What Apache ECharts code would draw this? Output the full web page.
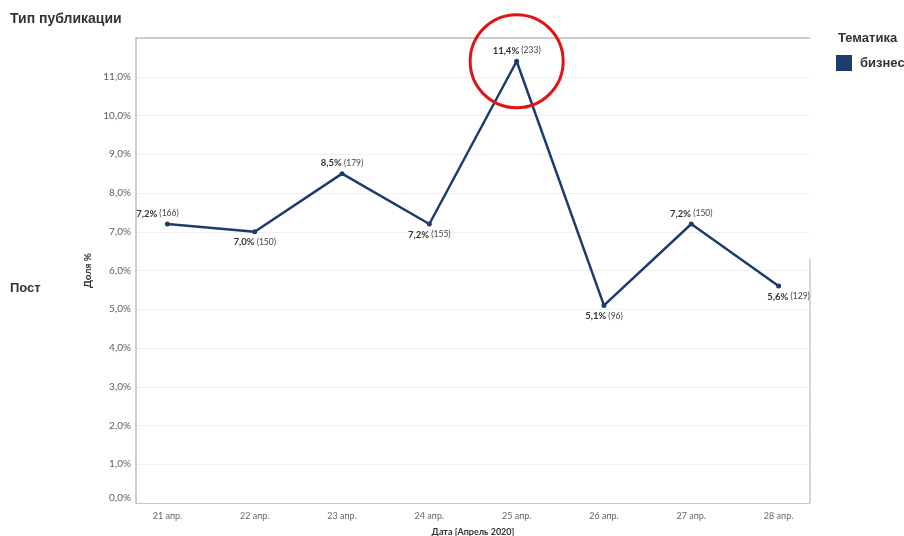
<!DOCTYPE html>
<html>
<head>
<meta charset="utf-8">
<script src="https://cdn.jsdelivr.net/npm/echarts@6/dist/echarts.min.js"></script>
<style>
  html, body { margin: 0; padding: 0; background: #fff; }
  #chart { width: 904px; height: 536px; }
</style>
</head>
<body>
<div id="chart"></div>
<script>
// Daily share of "бизнес" posts, 21–28 April 2020
const categories = ['21 апр.', '22 апр.', '23 апр.', '24 апр.', '25 апр.', '26 апр.', '27 апр.', '28 апр.'];
const shares = [7.2, 7.0, 8.5, 7.2, 11.4, 5.1, 7.2, 5.6];
const counts = [166, 150, 179, 155, 233, 96, 150, 129];
const labelPlacement = ['top', 'bottom', 'top', 'bottom', 'top', 'bottom', 'top', 'bottom'];
const yTicks = [0, 1, 2, 3, 4, 5, 6, 7, 8, 9, 10, 11, 12];

const navy = '#1d3c6e';
const pct = v => v.toFixed(1).replace('.', ',') + '%';

const seriesData = shares.map((v, i) => {
  let off = [0, 0];
  if (i === 0) off = [-10, 0];
  if (i === shares.length - 1) off = [10, 0];
  return {
    value: [i, v],
    label: { position: labelPlacement[i], offset: off }
  };
});

const chart = echarts.init(document.getElementById('chart'), null, { renderer: 'canvas' });
chart.setOption({
  animation: false,
  backgroundColor: '#fff',
  textStyle: { fontFamily: 'Lato, "Noto Sans", sans-serif' },
  grid: { left: 136, right: 94, top: 38, bottom: 33, containLabel: false, outerBoundsMode: 'none' },
  title: [
    { text: 'Тип публикации', left: 5, top: 7,
      textStyle: { fontFamily: '"Liberation Sans", Arial, sans-serif', fontSize: 14, fontWeight: 'bold', color: '#333' } },
    { text: 'Пост', left: 5, top: 277,
      textStyle: { fontFamily: '"Liberation Sans", Arial, sans-serif', fontSize: 13, fontWeight: 'bold', color: '#333' } },
    { text: 'Тематика', left: 833, top: 27,
      textStyle: { fontFamily: '"Liberation Sans", Arial, sans-serif', fontSize: 13, fontWeight: 'bold', color: '#333' } }
  ],
  legend: {
    left: 831, top: 50, itemWidth: 16, itemHeight: 16, itemGap: 6,
    icon: 'rect',
    textStyle: { fontFamily: '"Liberation Sans", Arial, sans-serif', fontSize: 13, fontWeight: 'bold', color: '#333', padding: [0, 0, 0, 3] },
    data: [{ name: 'бизнес', itemStyle: { color: navy } }]
  },
  xAxis: [{
    type: 'value',
    min: -0.36, max: 7.36,
    name: 'Дата [Апрель 2020]',
    nameLocation: 'middle', nameGap: 25,
    nameTextStyle: { fontSize: 9, fontWeight: 'bold', color: '#333' },
    axisLine: { show: true, onZero: false, lineStyle: { color: '#c8c8c8', width: 1 } },
    axisTick: { show: false },
    splitLine: { show: false },
    axisLabel: {
      customValues: categories.map((c, i) => i),
      formatter: v => categories[Math.round(v)],
      color: '#666', fontSize: 9, margin: 9
    }
  }, {
    type: 'value', position: 'top',
    min: -0.36, max: 7.36,
    axisLine: { show: true, onZero: false, lineStyle: { color: '#c0c0c0', width: 1.5 } },
    axisTick: { show: false }, axisLabel: { show: false }, splitLine: { show: false }
  }],
  yAxis: {
    type: 'value', min: 0, max: 12, interval: 1,
    name: 'Доля %',
    nameLocation: 'middle', nameGap: 42,
    nameTextStyle: { fontSize: 10, fontWeight: 'bold', color: '#333' },
    axisLine: { show: true, onZero: false, lineStyle: { color: '#bdbdbd', width: 1.5 } },
    axisTick: { show: false },
    splitLine: { show: true, lineStyle: { color: '#efefef', width: 1 } },
    axisLabel: {
      color: '#5e5e5e', fontSize: 10, margin: 5,
      showMaxLabel: false,
      verticalAlignMinLabel: 'bottom',
      formatter: v => yTicks.includes(v) ? pct(v) : ''
    }
  },
  graphic: [{
    type: 'line',
    shape: { x1: 810, y1: 259, x2: 810, y2: 503 },
    style: { stroke: '#c8c8c8', lineWidth: 1.5 }
  }],
  series: [{
    name: 'бизнес',
    type: 'line',
    data: seriesData,
    symbol: 'circle', symbolSize: 5,
    color: navy,
    lineStyle: { color: navy, width: 2.5 },
    itemStyle: { color: navy },
    label: {
      show: true, distance: 3,
      formatter: p => '{b|' + pct(shares[p.dataIndex]) + '}{n| (' + counts[p.dataIndex] + ')}',
      rich: {
        b: { fontSize: 9.5, fontWeight: 'bold', color: '#333' },
        n: { fontSize: 8.5, color: '#444' }
      }
    },
    markPoint: {
      data: [{ type: 'max', valueDim: 'y' }],
      symbol: 'circle', symbolSize: 93,
      itemStyle: { color: 'rgba(0,0,0,0)', borderColor: '#e01414', borderWidth: 3 },
      label: { show: false },
      silent: true
    }
  }]
});
</script>
</body>
</html>
